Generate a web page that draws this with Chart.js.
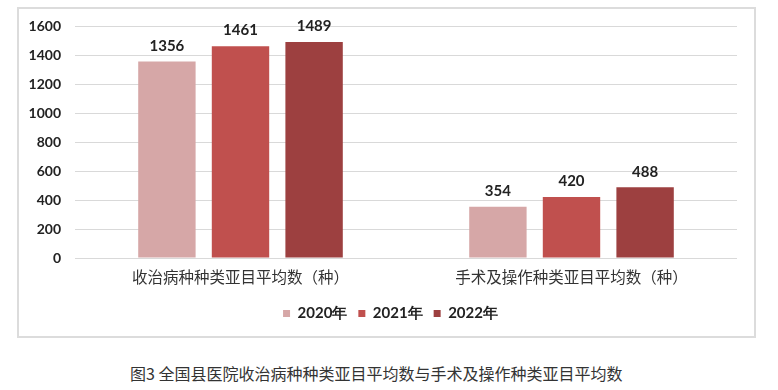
<!DOCTYPE html>
<html><head><meta charset="utf-8">
<script src="https://cdn.jsdelivr.net/npm/chart.js@4"></script>
<style>
html,body{margin:0;padding:0;background:#fff;width:778px;height:390px;overflow:hidden;}
#frame{position:absolute;left:17px;top:7px;width:735px;height:327px;border:2px solid #dcdcdc;}
#wrap{position:absolute;left:0;top:0;width:778px;height:339px;}
#cap{position:absolute;left:130px;top:362px;font-family:"Noto Sans CJK SC";font-size:16px;line-height:22px;color:#333;white-space:nowrap;}
</style></head><body>
<div id="frame"></div>
<div id="wrap"><canvas id="c"></canvas></div>
<div id="cap">图3 全国县医院收治病种种类亚目平均数与手术及操作种类亚目平均数</div>
<script>
const categories = ["收治病种种类亚目平均数（种）", "手术及操作种类亚目平均数（种）"];
const seriesNames = ["2020年", "2021年", "2022年"];
const v2020 = [1356, 354];
const v2021 = [1461, 420];
const v2022 = [1489, 488];
const yTicks = [0, 200, 400, 600, 800, 1000, 1200, 1400, 1600];
const colors = ["#d6a7a7", "#c0504e", "#9d4040"];

const labelPlugin = {
  id: 'vals',
  afterLayout(chart) {
    if (chart.legend) { chart.legend.left += 12; chart.legend.right += 12; }
  },
  afterDatasetsDraw(chart) {
    const ctx = chart.ctx;
    ctx.save();
    ctx.font = "bold 15px Lato";
    ctx.fillStyle = "#222";
    ctx.textAlign = "center";
    ctx.textBaseline = "bottom";
    chart.data.datasets.forEach((ds, i) => {
      chart.getDatasetMeta(i).data.forEach((bar, j) => {
        ctx.fillText(String(ds.data[j]), bar.x, bar.y - 8);
      });
    });
    ctx.restore();
  }
};

new Chart(document.getElementById('c'), {
  type: 'bar',
  data: {
    labels: categories,
    datasets: [
      {label: seriesNames[0], data: v2020, backgroundColor: colors[0]},
      {label: seriesNames[1], data: v2021, backgroundColor: colors[1]},
      {label: seriesNames[2], data: v2022, backgroundColor: colors[2]}
    ]
  },
  options: {
    responsive: true,
    maintainAspectRatio: false,
    animation: false,
    layout: {padding: {left: 20, right: 41, top: 26, bottom: 8}},
    datasets: {bar: {categoryPercentage: 0.667, barPercentage: 0.78}},
    plugins: {
      tooltip: {enabled: false},
      legend: {
        position: 'bottom',
        labels: {boxWidth: 7, boxHeight: 7, padding: 11, color: '#222',
          font: {family: 'Lato', size: 15, weight: 'bold'}}
      }
    },
    scales: {
      x: {
        grid: {display: false},
        border: {display: false},
        ticks: {color: '#333', padding: 2, font: {family: '"Noto Sans CJK SC"', size: 15.5}},
        afterFit(s) { s.height = 37; }
      },
      y: {
        min: 0, max: 1600,
        afterBuildTicks(s) { s.ticks = yTicks.map(v => ({value: v})); },
        grid: {color: '#d9d9d9', drawTicks: false, lineWidth: 1},
        border: {display: false},
        ticks: {color: '#222', padding: 14, font: {family: 'Lato', size: 14, weight: 'bold'},
          callback: (v) => String(v)},
        afterFit(s) { s.width = 55; }
      }
    }
  },
  plugins: [labelPlugin]
});
</script>
</body></html>
